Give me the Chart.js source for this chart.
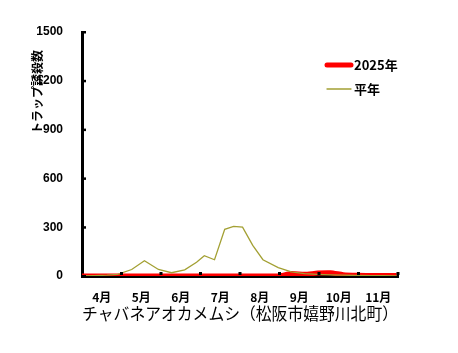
<!DOCTYPE html>
<html>
<head>
<meta charset="utf-8">
<script src="https://cdn.jsdelivr.net/npm/chart.js@4"></script>
<style>
  html, body { margin: 0; padding: 0; background: #fff; }
  #wrap { width: 458px; height: 353px; }
</style>
</head>
<body>
<div id="wrap"><canvas id="trapChart"></canvas></div>
<script>
const months = ["4月", "5月", "6月", "7月", "8月", "9月", "10月", "11月"];
const surveyDates = ["4/1", "4/10", "4/20", "4/28", "5/9", "5/19", "5/30", "6/9", "6/19", "6/28",
  "7/4", "7/12", "7/20", "7/27", "8/3", "8/11", "8/19", "8/31", "9/10", "9/20",
  "9/30", "10/10", "10/20", "10/31", "11/10", "11/20", "11/30"];
const catches2025 = [0, 0, 0, 0, 0, 0, 0, 0, 0, 0,
  0, 0, 0, 0, 0, 0, 0, 0, 15, 10,
  18, 20, 8, 4, 3, 3, 3];
const catchesAvg = [0, 2, 5, 10, 40, 94, 40, 20, 38, 85,
  125, 100, 287, 305, 300, 188, 100, 52, 25, 14,
  10, 7, 5, 3, 2, 2, 1];
const yTicks = [0, 300, 600, 900, 1200, 1500];
const yTitle = "トラップ誘殺数";
const xTitle = "チャバネアオカメムシ（松阪市嬉野川北町）";

const jpFont = "'Noto Sans CJK JP', 'Liberation Sans', sans-serif";
const daysIn = { 4: 30, 5: 31, 6: 30, 7: 31, 8: 31, 9: 30, 10: 31, 11: 30 };

// "M/D" -> position in months from April 1
function toMonthPos(s) {
  const [m, d] = s.split("/").map(Number);
  return (m - 4) + (d - 1) / daysIn[m];
}

function points(values) {
  return surveyDates.map((s, i) => ({ x: toMonthPos(s), y: values[i] }));
}

const extras = {
  id: "extras",
  afterDatasetsDraw(chart) {
    const { ctx, chartArea: a, scales: { x, y } } = chart;
    ctx.save();
    ctx.fillStyle = "#000";
    // small inward tick marks
    for (let m = 1; m <= months.length; m++) {
      const px = x.getPixelForValue(m);
      ctx.fillRect(px - 1.5, a.bottom - 4, 3, 3);
    }
    yTicks.forEach(v => {
      const py = y.getPixelForValue(v);
      ctx.fillRect(a.left, py - 1, 4, 2.5);
    });

    // y title, rotated
    ctx.save();
    ctx.translate(a.left - 45, a.top + 60);
    ctx.rotate(-Math.PI / 2);
    ctx.font = "bold 12px " + jpFont;
    ctx.textAlign = "center";
    ctx.textBaseline = "middle";
    ctx.fillText(yTitle, 0, 0);
    ctx.restore();

    // legend inside the plot
    ctx.font = "bold 13px " + jpFont;
    ctx.textBaseline = "middle";
    ctx.textAlign = "left";
    ctx.lineCap = "round";
    chart.data.datasets.forEach((ds, i) => {
      const ly = a.top + 33 + i * 24;
      ctx.strokeStyle = ds.borderColor;
      ctx.lineWidth = ds.borderWidth;
      ctx.beginPath();
      ctx.moveTo(a.left + 245, ly);
      ctx.lineTo(a.left + 269, ly);
      ctx.stroke();
      ctx.fillStyle = "#000";
      ctx.fillText(ds.label, a.left + 272, ly);
    });
    ctx.restore();
  }
};

new Chart(document.getElementById("trapChart"), {
  type: "line",
  data: {
    datasets: [
      {
        label: "2025年",
        data: points(catches2025),
        borderColor: "#ff0000",
        borderWidth: 5,
        pointRadius: 0,
        tension: 0.2,
        order: 2
      },
      {
        label: "平年",
        data: points(catchesAvg),
        borderColor: "#a3a033",
        borderWidth: 1.3,
        pointRadius: 0,
        tension: 0,
        order: 1
      }
    ]
  },
  options: {
    responsive: true,
    maintainAspectRatio: false,
    animation: false,
    layout: { padding: { left: 32, top: 32, right: 60, bottom: 0 } },
    plugins: {
      legend: { display: false },
      tooltip: { enabled: false }
    },
    scales: {
      x: {
        type: "linear",
        min: 0,
        max: months.length,
        afterFit: s => { s.height = 77; },
        border: { color: "#000", width: 3 },
        grid: { display: false },
        ticks: {
          stepSize: 0.5,
          autoSkip: false,
          maxRotation: 0,
          padding: 6,
          color: "#000",
          font: { family: jpFont, size: 12, weight: "bold" },
          callback: v => (v % 1 === 0.5 ? months[Math.floor(v)] : "")
        },
        title: {
          display: true,
          text: xTitle,
          color: "#000",
          font: { family: jpFont, size: 16.5 },
          padding: { top: 0, bottom: 29 }
        }
      },
      y: {
        min: 0,
        max: 1500,
        afterFit: s => { s.width = 50; },
        border: { color: "#000", width: 3 },
        grid: { display: false },
        afterBuildTicks: s => { s.ticks = yTicks.map(v => ({ value: v })); },
        ticks: {
          padding: 11,
          color: "#000",
          font: { family: "'Liberation Sans', Arial, sans-serif", size: 12, weight: "bold" },
          callback: v => String(v)
        }
      }
    }
  },
  plugins: [extras]
});
</script>
</body>
</html>
